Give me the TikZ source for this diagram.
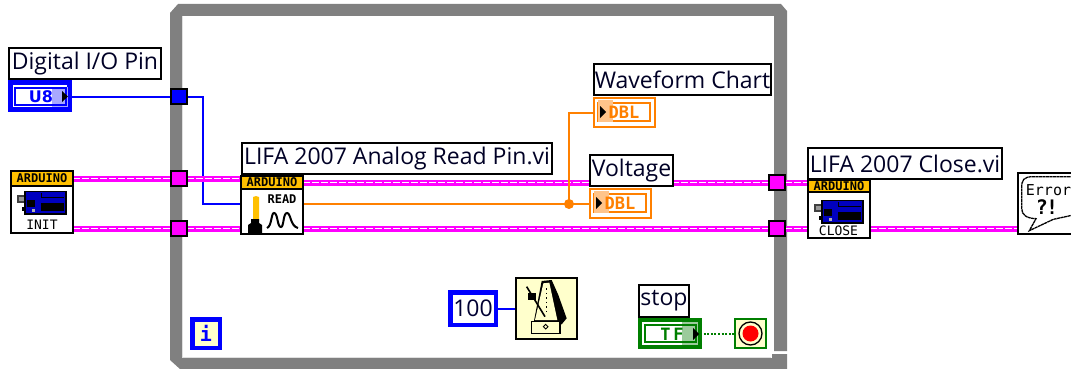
\documentclass[tikz,border=0pt]{standalone}
\usepackage{fontspec}
\setmainfont{Open Sans}
\newfontfamily\iconfont{DejaVu Sans Mono}
\newfontfamily\widefont{DejaVu Sans}
\usetikzlibrary{backgrounds}
\definecolor{wpink}{HTML}{FF00FF}
\definecolor{wblue}{HTML}{0000FF}
\definecolor{worange}{HTML}{FF8000}
\definecolor{lorange}{HTML}{FFC48A}
\definecolor{wgreen}{HTML}{007F00}
\definecolor{lgreen}{HTML}{9CCB9C}
\definecolor{lblue}{HTML}{A8A8FF}
\definecolor{cream}{HTML}{FFFFCC}
\definecolor{hdr}{HTML}{FFC000}
\definecolor{loopgray}{HTML}{808080}
\newcommand{\fs}[1]{\fontsize{#1}{#1}\selectfont}
% name, x0,y0,x1,y1, line width, style, text
\newcommand{\bx}[8]{\node[inner sep=0pt,outer sep=0pt,line width=#6pt,minimum width={(#4-#2-#6)*1pt},minimum height={(#5-#3-#6)*1pt},#7] (#1) at ({(#2+#4)/2},{(#3+#5)/2}) {#8};}
\tikzset{
 lbl/.style={draw=black,fill=white,text=black!85!blue,font=\fs{23}},
 vi/.style={draw=black,fill=white},
 tun/.style={draw=black},
 hdrbox/.style={draw=black,fill=hdr,font=\iconfont\bfseries\fs{12}},
 wirebase/.style={line cap=butt,line join=miter},
 pinkwire/.style={wirebase,draw=wpink,line width=6pt,postaction={draw=white,line width=1.6pt,dash pattern=on 6.5pt off 2.5pt}},
 bluewire/.style={wirebase,draw=wblue,line width=2pt},
 orangewire/.style={wirebase,draw=worange,line width=2pt},
 greenwire/.style={wirebase,draw=wgreen,line width=2pt,dash pattern=on 2pt off 1.6pt},
 icontext/.style={inner sep=0pt,font=\iconfont\bfseries\fs{13}},
}
% Arduino board icon, origin at board top-left
\newcommand{\boardicon}[1]{\begin{scope}[shift={#1}]
 \fill[black!75] (-8,5) rectangle (3,13);
 \fill[black!40] (-6,7) rectangle (1,11);
 \fill[black] (-3,17) rectangle (3,21);
 \fill[black] (-1,1) rectangle (42,25);
 \fill[blue!75!black] (1,2) rectangle (40,23);
 \fill[black] (16,13) rectangle (39,21);
 \fill[black] (2,10) rectangle (10,17);
 \draw[black,line width=1pt] (16,3) -- (16,7) -- (39,7);
 \fill[black!30] (7,19) rectangle (10,22);
\end{scope}}
\begin{document}
\begin{tikzpicture}[x=1pt,y=-1pt]
\useasboundingbox (0,0) rectangle (1071,369);
% --- nodes ---
% tunnels
\bx{tunpin}{170}{88}{188}{105}{1.8}{tun,fill=wblue}{}
\bx{tuna}{170}{170}{188}{187}{1.8}{tun,fill=wpink}{}
\bx{tunb}{170}{220}{188}{237}{1.8}{tun,fill=wpink}{}
\bx{tunc}{768}{174}{786}{191}{1.8}{tun,fill=wpink}{}
\bx{tund}{768}{220}{786}{237}{1.8}{tun,fill=wpink}{}
% Digital I/O Pin
\bx{digl}{8}{47}{162}{80}{1.8}{lbl}{Digital I/O Pin}
\bx{u8}{8}{80}{72}{112}{5}{draw=wblue,fill=white}{}
\fill[lblue] (52,87) rectangle (68,107);
\draw[wblue,line width=1.5pt] (15,88) rectangle (66,105);
\node[inner sep=0pt,text=wblue,font=\widefont\bfseries\fs{16}] (u8t) at (41,96.5) {U8};
\fill[black] (62,91) -- (68,96.5) -- (62,102) -- cycle;
% Init VI
\bx{init}{10}{170}{74}{234}{1.8}{vi}{}
\bx{inith}{10}{170}{74}{187}{1.8}{hdrbox}{ARDUINO}
\boardicon{(25,190)}
\node[icontext,font=\iconfont\fs{13}] (initt) at (42,225) {INIT};
% Read VI
\bx{readl}{241}{142}{553}{175}{1.8}{lbl}{LIFA 2007 Analog Read Pin.vi}
\bx{read}{240}{175}{304}{235}{1.8}{vi}{}
\bx{readh}{240}{175}{304}{190}{1.8}{hdrbox}{ARDUINO}
\node[icontext,font=\iconfont\bfseries\fs{12}] (readt) at (282,199) {READ};
\fill[hdr] (253,197) -- (256,196) -- (259,197) -- (259,221) -- (253,221) -- cycle;
\fill[black] (251,219) -- (259,219) -- (259,223) -- (262,225) -- (262,234) -- (248,234) -- (248,225) -- (251,223) -- cycle;
\draw[black,line width=2pt] (267,228) .. controls (272,226) and (271,213) .. (274,213) .. controls (278,213) and (277,227) .. (281,227) .. controls (284,227) and (283,213) .. (287,213) .. controls (291,213) and (290,226) .. (298,228);
% Waveform Chart
\bx{wavel}{593}{63}{772}{96}{1.8}{lbl}{Waveform Chart}
\bx{wavet}{593}{97}{656}{128}{1.8}{draw=worange,fill=white}{}
\draw[worange,line width=1.5pt] (598,103) rectangle (650,121);
\fill[lorange] (598,100) rectangle (613,122);
\node[inner sep=0pt,text=worange,font=\iconfont\bfseries\fs{17}] (wavetxt) at (624,112) {DBL};
\fill[black] (600,106) -- (606,112) -- (600,118) -- cycle;
% Voltage
\bx{voltl}{589}{154}{674}{187}{1.8}{lbl}{Voltage}
\bx{voltt}{589}{188}{652}{219}{1.8}{draw=worange,fill=white}{}
\draw[worange,line width=1.5pt] (594,194) rectangle (646,212);
\fill[lorange] (594,191) rectangle (609,213);
\node[inner sep=0pt,text=worange,font=\iconfont\bfseries\fs{17}] (volttxt) at (620,203) {DBL};
\fill[black] (596,197) -- (602,203) -- (596,209) -- cycle;
\fill[worange] (569,204) circle (5pt) coordinate (junc);
% Close VI
\bx{closel}{807}{147}{1003}{180}{1.8}{lbl}{LIFA 2007 Close.vi}
\bx{close}{807}{179}{871}{239}{1.8}{vi}{}
\bx{closeh}{807}{179}{871}{193}{1.8}{hdrbox}{ARDUINO}
\boardicon{(822,199)}
\node[icontext,font=\iconfont\fs{13}] (closet) at (838.5,231) {CLOSE};
% Error
\bx{err}{1017}{172}{1075}{235}{1.8}{vi}{}
\begin{scope}[shift={(790,130)},x=1pt/3,y=-1pt/3]
 \draw[black,line width=1.3pt,dash pattern=on 3pt off .5pt] (850,140) -- (730,140) .. controls (700,140) and (695,150) .. (695,175) -- (695,235) .. controls (695,255) and (710,265) .. (738,266) -- (718,302) -- (790,268) -- (850,255);
\end{scope}
\node[inner sep=0pt,font=\iconfont\fs{15}] (errt) at (1048.5,190) {Error};
\node[inner sep=0pt,font=\iconfont\bfseries\fs{20}] (errq) at (1047,207) {?\kern-2pt!};
% Iteration terminal
\bx{iter}{190}{317}{222}{350}{4.5}{draw=wblue,fill=cream,text=wblue,font=\iconfont\bfseries\fs{20}}{i}
% constant 100 + metronome
\bx{hund}{448}{290}{498}{327}{4.5}{draw=wblue,fill=white,text=black!80!blue,font=\fs{23}}{100}
\bx{metro}{515}{277}{578}{340}{1.8}{vi,fill=cream}{}
\begin{scope}[shift={(430,265)},x=1pt/3,y=-1pt/3]
 \fill[black] (335,48) -- (365,45) -- (385,90) -- (410,160) -- (395,178) -- (310,178) -- cycle;
 \fill[cream] (340,55) -- (358,53) -- (382,165) -- (315,165) -- cycle;
 \draw[black,line width=1.6pt] (290,65) -- (345,155);
 \fill[black] (295,85) rectangle (318,105);
 \draw[black,line width=1.3pt,dash pattern=on 1.5pt off 3pt] (350,70) -- (350,150);
 \draw[black,fill=cream,line width=1.3pt] (305,170) rectangle (390,205);
 \draw[black,line width=.9pt] (347,178) -- (354,185) -- (347,192) -- (340,185) -- cycle;
\end{scope}
% stop
\bx{stopl}{638}{284}{690}{318}{1.8}{lbl}{stop}
\bx{tf}{638}{318}{702}{349}{4}{draw=wgreen,fill=white}{}
\fill[lgreen] (682,322) rectangle (698,345);
\draw[wgreen,line width=1.3pt] (645,325) rectangle (696,342);
\node[inner sep=0pt,text=wgreen,font=\iconfont\bfseries\fs{17}] (tftxt) at (672,334) {T\kern3ptF};
\fill[black] (693,328) -- (699,334) -- (693,340) -- cycle;
\bx{stopt}{734}{318}{767}{349}{1.6}{draw=wgreen,fill=cream}{}
\draw[black,fill=cream,line width=1.3pt] (750.5,333.5) circle (11.5pt);
\fill[red] (750.5,333.5) circle (8pt);
% --- wires and loop, behind everything ---
\begin{scope}[on background layer]
 \fill[white] (0,0) rectangle (1071,369);
 \fill[loopgray] (170,13) -- (178,4) -- (781,4) -- (787,11) -- (787,351) -- (774,351) -- (774,16) -- (182,16) -- (182,358) -- (772,358) -- (772,354) -- (787,354) -- (787,369) -- (180,369) -- (170,360) -- cycle;
 \draw[black!12,line width=1pt] (182.5,16) -- (182.5,357.5) -- (771,357.5);
 \draw[bluewire] (u8.east |- tunpin) -- (tunpin);
 \draw[bluewire] (tunpin) -| (203,204) -- (read.west |- 0,204);
 \draw[pinkwire] (init.east |- tuna) -- (tuna);
 \draw[pinkwire] (init.east |- tunb) -- (tunb);
 \draw[pinkwire] (tuna) -- (read.west |- tuna);
 \draw[pinkwire] (tunb) -- (read.west |- tunb);
 \draw[pinkwire] (read.east |- tunc) -- (tunc);
 \draw[pinkwire] (read.east |- tund) -- (tund);
 \draw[pinkwire] (tunc) -- (close.west |- tunc);
 \draw[pinkwire] (tund) -- (close.west |- tund);
 \draw[pinkwire] (close.east |- tund) -- (err.west |- tund);
 \draw[orangewire] (read.east |- junc) -- (voltt.west |- junc);
 \draw[orangewire] (junc) |- (wavet.west);
 \draw[bluewire] (hund.east) -- (metro.west |- hund.east);
 \draw[greenwire] (tf.east) -- (stopt.west);
\end{scope}
\end{tikzpicture}
\end{document}
